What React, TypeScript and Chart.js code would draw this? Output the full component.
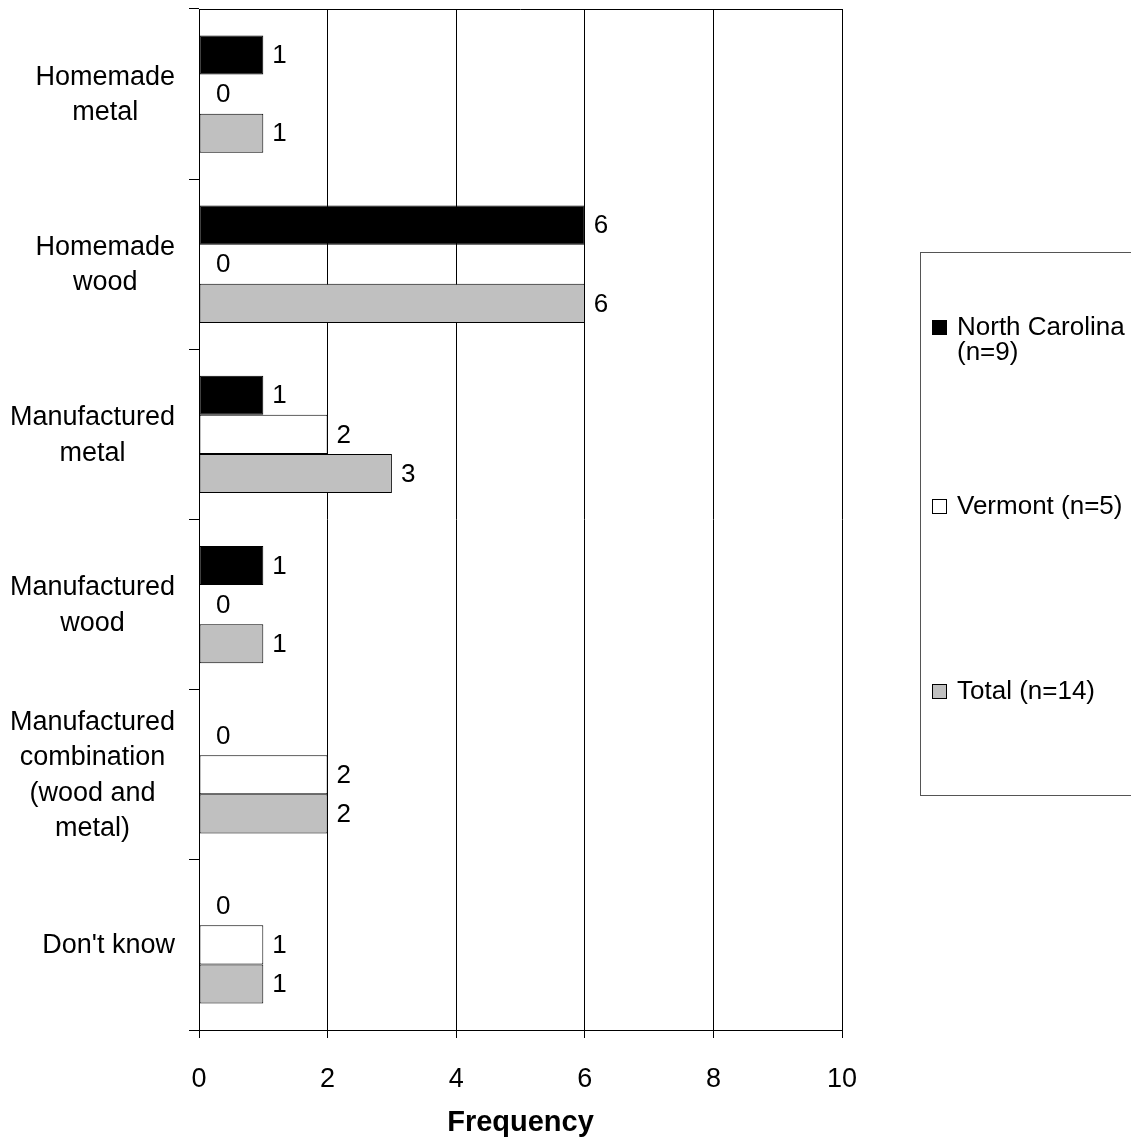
import React, { useEffect, useRef } from "react";
import { Chart, registerables } from "chart.js";

Chart.register(...registerables);

const categories: string[][] = [
  ["Homemade", "metal"],
  ["Homemade", "wood"],
  ["Manufactured", "metal"],
  ["Manufactured", "wood"],
  ["Manufactured", "combination", "(wood and", "metal)"],
  ["Don't know"],
];

const seriesNames: string[][] = [["North Carolina", "(n=9)"], ["Vermont (n=5)"], ["Total (n=14)"]];
const northCarolina = [1, 6, 1, 1, 0, 0];
const vermont = [0, 0, 2, 0, 2, 1];
const total = [1, 6, 3, 1, 2, 1];
const seriesColors = ["#000000", "#ffffff", "#c0c0c0"];
const xTicks = [0, 2, 4, 6, 8, 10];

const FONT = "'Liberation Sans', Arial, sans-serif";

const labelsPlugin = {
  id: "valueLabels",
  afterDatasetsDraw(chart: any) {
    const ctx = chart.ctx;
    ctx.save();
    ctx.font = `26px ${FONT}`;
    ctx.fillStyle = "#000";
    ctx.textAlign = "left";
    ctx.textBaseline = "middle";
    chart.data.datasets.forEach((ds: any, di: number) => {
      const meta = chart.getDatasetMeta(di);
      meta.data.forEach((el: any, i: number) => {
        const v = ds.data[i];
        if (v === null || v === undefined) return;
        const off = v === 0 ? 17 : 9;
        ctx.fillText(String(v), el.x + off, el.y + 1);
      });
    });
    ctx.restore();
  },
  afterDraw(chart: any) {
    const ctx = chart.ctx;
    const a = chart.chartArea;
    ctx.save();
    ctx.strokeStyle = "#000";
    ctx.lineWidth = 1;
    ctx.beginPath();
    ctx.moveTo(a.left, Math.round(a.top) + 0.5);
    ctx.lineTo(a.right, Math.round(a.top) + 0.5);
    ctx.stroke();

    // category labels: block right-aligned, lines centered within block
    const yScale = chart.scales.y;
    ctx.font = `27px ${FONT}`;
    ctx.fillStyle = "#000";
    ctx.textAlign = "center";
    ctx.textBaseline = "middle";
    const lh = 35.5;
    const rightEdge = 175;
    (chart.data.labels as string[][]).forEach((lines, i) => {
      const yc = yScale.getPixelForValue(i);
      const w = Math.max(...lines.map((t) => ctx.measureText(t).width));
      const cx = rightEdge - w / 2;
      lines.forEach((t, li) => {
        ctx.fillText(t, cx, yc + (li - (lines.length - 1) / 2) * lh + 1);
      });
    });

    // legend
    const bx = 920.5, by = 252.5, bw = 300, bh = 543;
    ctx.strokeStyle = "#555";
    ctx.strokeRect(bx, by, bw, bh);
    const itemY = [328, 507, 692];
    ctx.font = `26px ${FONT}`;
    ctx.textAlign = "left";
    ctx.textBaseline = "middle";
    chart.data.datasets.forEach((ds: any, di: number) => {
      const y = itemY[di];
      ctx.fillStyle = ds.backgroundColor;
      ctx.fillRect(932, y - 8, 15, 15);
      ctx.strokeStyle = "#000";
      ctx.strokeRect(932.5, y - 7.5, 14, 14);
      ctx.fillStyle = "#000";
      seriesNames[di].forEach((t, li) => ctx.fillText(t, 957, y + li * 25));
    });
    ctx.restore();
  },
};

export default function App() {
  const ref = useRef<HTMLCanvasElement>(null);
  useEffect(() => {
    document.body.style.margin = "0";
    const ds = [northCarolina, vermont, total].map((d, i) => ({
      label: seriesNames[i].join(" "),
      data: d,
      backgroundColor: seriesColors[i],
      borderColor: "#000",
      borderWidth: 1,
      borderSkipped: false,
      categoryPercentage: 0.69,
      barPercentage: 1.0,
    }));
    const chart = new Chart(ref.current!, {
      type: "bar",
      data: { labels: categories, datasets: ds as any },
      options: {
        indexAxis: "y",
        animation: false,
        responsive: false,
        layout: { padding: { top: 9, right: 289, left: 0, bottom: 0 } },
        plugins: { legend: { display: false }, tooltip: { enabled: false } },
        scales: {
          x: {
            type: "linear",
            min: 0,
            max: 10,
            afterBuildTicks: (axis: any) => {
              axis.ticks = xTicks.map((v) => ({ value: v }));
            },
            afterFit: (scale: any) => {
              scale.height = 110;
              scale.paddingLeft = 0;
            },
            ticks: { color: "#000", font: { size: 27, family: FONT }, padding: 25 },
            grid: { color: "#000", lineWidth: 1, tickLength: 8, drawTicks: true },
            border: { color: "#000", width: 1 },
            title: {
              display: true,
              text: "Frequency",
              color: "#000",
              font: { size: 29, weight: "bold", family: FONT },
              padding: { top: 0, bottom: 0 },
            },
          },
          y: {
            type: "category",
            afterFit: (scale: any) => {
              scale.width = 199;
              scale.paddingTop = 0;
              scale.paddingBottom = 0;
            },
            ticks: { display: false },
            grid: { drawOnChartArea: false, drawTicks: true, tickLength: 10, color: "#000", offset: true },
            border: { color: "#000", width: 1 },
          },
        },
      },
      plugins: [labelsPlugin],
    });
    return () => chart.destroy();
  }, []);
  return (
    <div style={{ width: 1131, height: 1140 }}>
      <canvas ref={ref} width={1131} height={1140} style={{ display: "block" }} />
    </div>
  );
}
